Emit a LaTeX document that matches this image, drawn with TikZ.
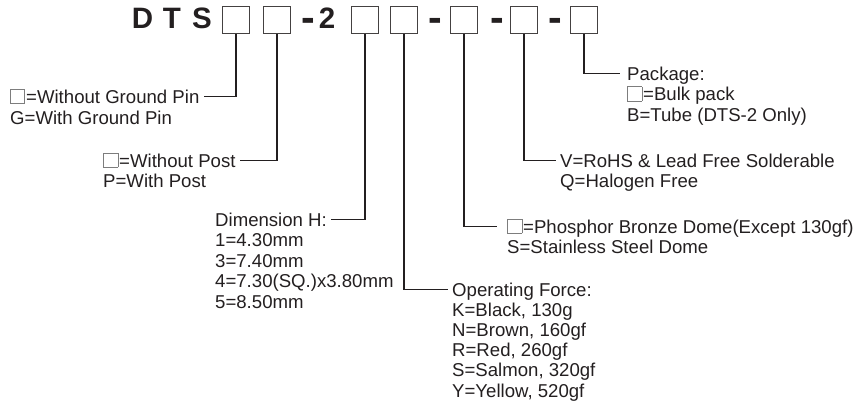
\documentclass[tikz,border=0pt]{standalone}
\usepackage{fontspec}
\setmainfont{Liberation Sans}
\definecolor{ink}{RGB}{35,31,32}
\definecolor{boxgray}{RGB}{125,125,125}
\newcommand{\emptybox}{{\color{boxgray}\setlength{\fboxrule}{0.7pt}\setlength{\fboxsep}{0pt}\fbox{\rule{0pt}{13.6pt}\rule{13.6pt}{0pt}}}\hspace{1pt}}

\begin{document}
\begin{tikzpicture}[x=1pt,y=1pt,font=\fontsize{18.6}{20.5}\selectfont]
                    \tikzstyle{every node}+=[inner sep=0pt, text=ink]
                    \tikzstyle{code}=[draw=ink!85, line width=1.4pt, minimum size=27pt]
                    \tikzstyle{title}=[font=\fontsize{29.5}{30}\selectfont\bfseries, anchor=base]
                    \tikzstyle{sep}=[font=\fontsize{41}{42}\selectfont\bfseries, anchor=base]
                    \tikzstyle{lbl}=[anchor=base west, inner xsep=4pt, text height=13.3pt, text depth=0pt]
                    \tikzstyle{wire}=[draw=ink, line width=1.1pt]
                    \useasboundingbox (0,0) rectangle (859,-402);
                    % part number
                    \node [title] (d) at (142.5,-28) {D};
                    \node [title] (t) at (172,-28) {T};
                    \node [title] (s) at (202,-28) {S};
                    \node [sep] (m1) at (308,-31.5) {-};
                    \node [title] (two) at (327,-28) {2};
                    \node [sep] (m2) at (435,-31.5) {-};
                    \node [sep] (m3) at (497,-31.5) {-};
                    \node [sep] (m4) at (555,-31.5) {-};
                    \node [code] (pin) at (236,-20) {};
                    \node [code] (post) at (277,-20) {};
                    \node [code] (dim) at (365,-20) {};
                    \node [code] (force) at (404,-20) {};
                    \node [code] (dome) at (464,-20) {};
                    \node [code] (rohs) at (524,-20) {};
                    \node [code] (pack) at (584,-20) {};
                    % ground pin
                    \node [lbl] (pin1) at (6,-103) {\emptybox=Without Ground Pin};
                    \node [lbl] (pin2) at (6,-124) {G=With Ground Pin};
                    % post
                    \node [lbl] (post1) at (99,-167) {\emptybox=Without Post};
                    \node [lbl] (post2) at (99,-187) {P=With Post};
                    % dimension
                    \node [lbl] (dim1) at (211,-226) {Dimension H:};
                    \node [lbl] (dim2) at (211,-246.5) {1=4.30mm};
                    \node [lbl] (dim3) at (211,-267) {3=7.40mm};
                    \node [lbl] (dim4) at (211,-287.5) {4=7.30(SQ.)x3.80mm};
                    \node [lbl] (dim5) at (211,-308) {5=8.50mm};
                    % operating force
                    \node [lbl] (force1) at (448,-296) {Operating Force:};
                    \node [lbl] (force2) at (448,-316.2) {K=Black, 130g};
                    \node [lbl] (force3) at (448,-336.4) {N=Brown, 160gf};
                    \node [lbl] (force4) at (448,-356.6) {R=Red, 260gf};
                    \node [lbl] (force5) at (448,-376.8) {S=Salmon, 320gf};
                    \node [lbl] (force6) at (448,-397) {Y=Yellow, 520gf};
                    % dome
                    \node [lbl] (dome1) at (503,-233) {\emptybox=Phosphor Bronze Dome(Except 130gf)};
                    \node [lbl] (dome2) at (503,-253.5) {S=Stainless Steel Dome};
                    % rohs
                    \node [lbl] (rohs1) at (556,-167) {V=RoHS \& Lead Free Solderable};
                    \node [lbl] (rohs2) at (556,-187.5) {Q=Halogen Free};
                    % package
                    \node [lbl] (pack1) at (623,-80) {Package:};
                    \node [lbl] (pack2) at (623,-100.5) {\emptybox=Bulk pack};
                    \node [lbl] (pack3) at (623,-121) {B=Tube (DTS-2 Only)};
                    % leaders
                    \draw [wire] (pin.south) |- (pin1.east);
                    \draw [wire] (post.south) |- (post1.east);
                    \draw [wire] (dim.south) |- (dim1.east);
                    \draw [wire] (force.south) |- (force1.west);
                    \draw [wire, shorten >=6pt] (dome.south) |- (dome1.west);
                    \draw [wire] (rohs.south) |- (rohs1.west);
                    \draw [wire, shorten >=3pt] (pack.south) |- (pack1.west);
\end{tikzpicture}
\end{document}
